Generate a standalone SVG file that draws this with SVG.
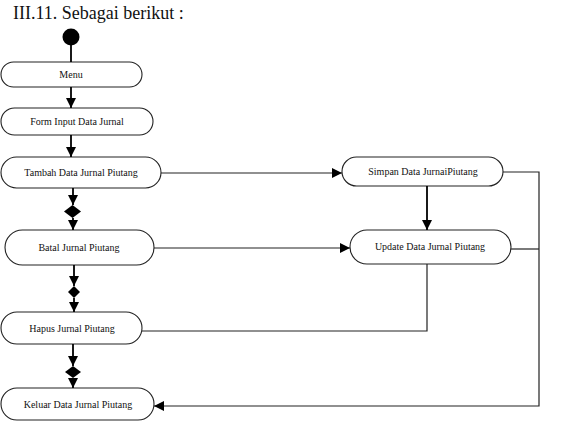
<svg xmlns="http://www.w3.org/2000/svg" width="563" height="421" viewBox="0 0 563 421">
<defs>
<marker id="ah" viewBox="0 0 10 10" refX="10" refY="5" markerWidth="10" markerHeight="10" markerUnits="userSpaceOnUse" orient="auto">
<path d="M0,0 L10,5 L0,10 Z" fill="#000"/>
</marker>
</defs>
<style>
.node{fill:#fff;stroke:#222;stroke-width:1.1}
.v{stroke:#000;stroke-width:1.8;fill:none}
.h{stroke:#222;stroke-width:1.2;fill:none}
.dia{fill:#000}
</style>
<rect width="563" height="421" fill="#fff"/>
<text x="13" y="19" font-family="Liberation Serif, Times New Roman, serif" font-size="18" fill="#111">III.11. Sebagai berikut :</text>

<g id="start"><circle cx="71" cy="37" r="8.5" fill="#000"/></g>

<g font-family="Liberation Serif, Times New Roman, serif" font-size="10" fill="#111" text-anchor="middle">
<g id="menu"><rect class="node" x="1" y="62" width="141" height="25" rx="12.5"/><text x="71" y="78">Menu</text></g>
<g id="form"><rect class="node" x="1" y="108" width="152" height="27" rx="13.5"/><text x="77" y="125">Form Input Data Jurnal</text></g>
<g id="tambah"><rect class="node" x="1" y="157" width="160" height="31" rx="15.5"/><text x="81" y="176">Tambah Data Jurnal Piutang</text></g>
<g id="simpan"><rect class="node" x="342" y="157" width="161" height="29" rx="14.5"/><text x="423" y="175">Simpan Data JurnaiPiutang</text></g>
<g id="batal"><rect class="node" x="5" y="230" width="149" height="35" rx="17.5"/><text x="79" y="251">Batal Jurnal Piutang</text></g>
<g id="update"><rect class="node" x="350" y="230" width="161" height="34" rx="17"/><text x="430" y="250">Update Data Jurnal Piutang</text></g>
<g id="hapus"><rect class="node" x="1" y="312" width="141" height="32" rx="16"/><text x="72" y="332">Hapus Jurnal Piutang</text></g>
<g id="keluar"><rect class="node" x="1" y="388" width="153" height="32" rx="16"/><text x="78" y="408">Keluar Data Jurnal Piutang</text></g>
</g>

<g id="fork1"><path class="dia" d="M72.5,205 L81,211.5 L72.5,218 L64,211.5 Z"/></g>
<g id="fork2"><path class="dia" d="M74,286 L80,292 L74,298 L68,292 Z"/></g>
<g id="fork3"><path class="dia" d="M73,366 L81,372 L73,378 L65,372 Z"/></g>

<g id="connectors">
<line class="v" x1="71" y1="45" x2="71" y2="62"/>
<line class="v" x1="71" y1="87" x2="71" y2="108" marker-end="url(#ah)"/>
<line class="v" x1="71" y1="135" x2="71" y2="157" marker-end="url(#ah)"/>
<line class="v" x1="73" y1="188" x2="73" y2="205" marker-end="url(#ah)"/>
<line class="v" x1="73" y1="218" x2="73" y2="230" marker-end="url(#ah)"/>
<line class="v" x1="74" y1="265" x2="74" y2="286" marker-end="url(#ah)"/>
<line class="v" x1="74" y1="298" x2="74" y2="312" marker-end="url(#ah)"/>
<line class="v" x1="73" y1="344" x2="73" y2="366" marker-end="url(#ah)"/>
<line class="v" x1="73" y1="378" x2="73" y2="388" marker-end="url(#ah)"/>
<line class="h" x1="161" y1="173" x2="342" y2="173" marker-end="url(#ah)"/>
<line class="h" x1="154" y1="248" x2="350" y2="248" marker-end="url(#ah)"/>
<line class="v" x1="427" y1="186" x2="427" y2="230" marker-end="url(#ah)"/>
<polyline class="h" points="427,264 427,331 142,331"/>
<polyline class="h" points="503,172 539,172 539,406 154,406" marker-end="url(#ah)"/>
<line class="h" x1="511" y1="249" x2="539" y2="249"/>
</g>
</svg>
